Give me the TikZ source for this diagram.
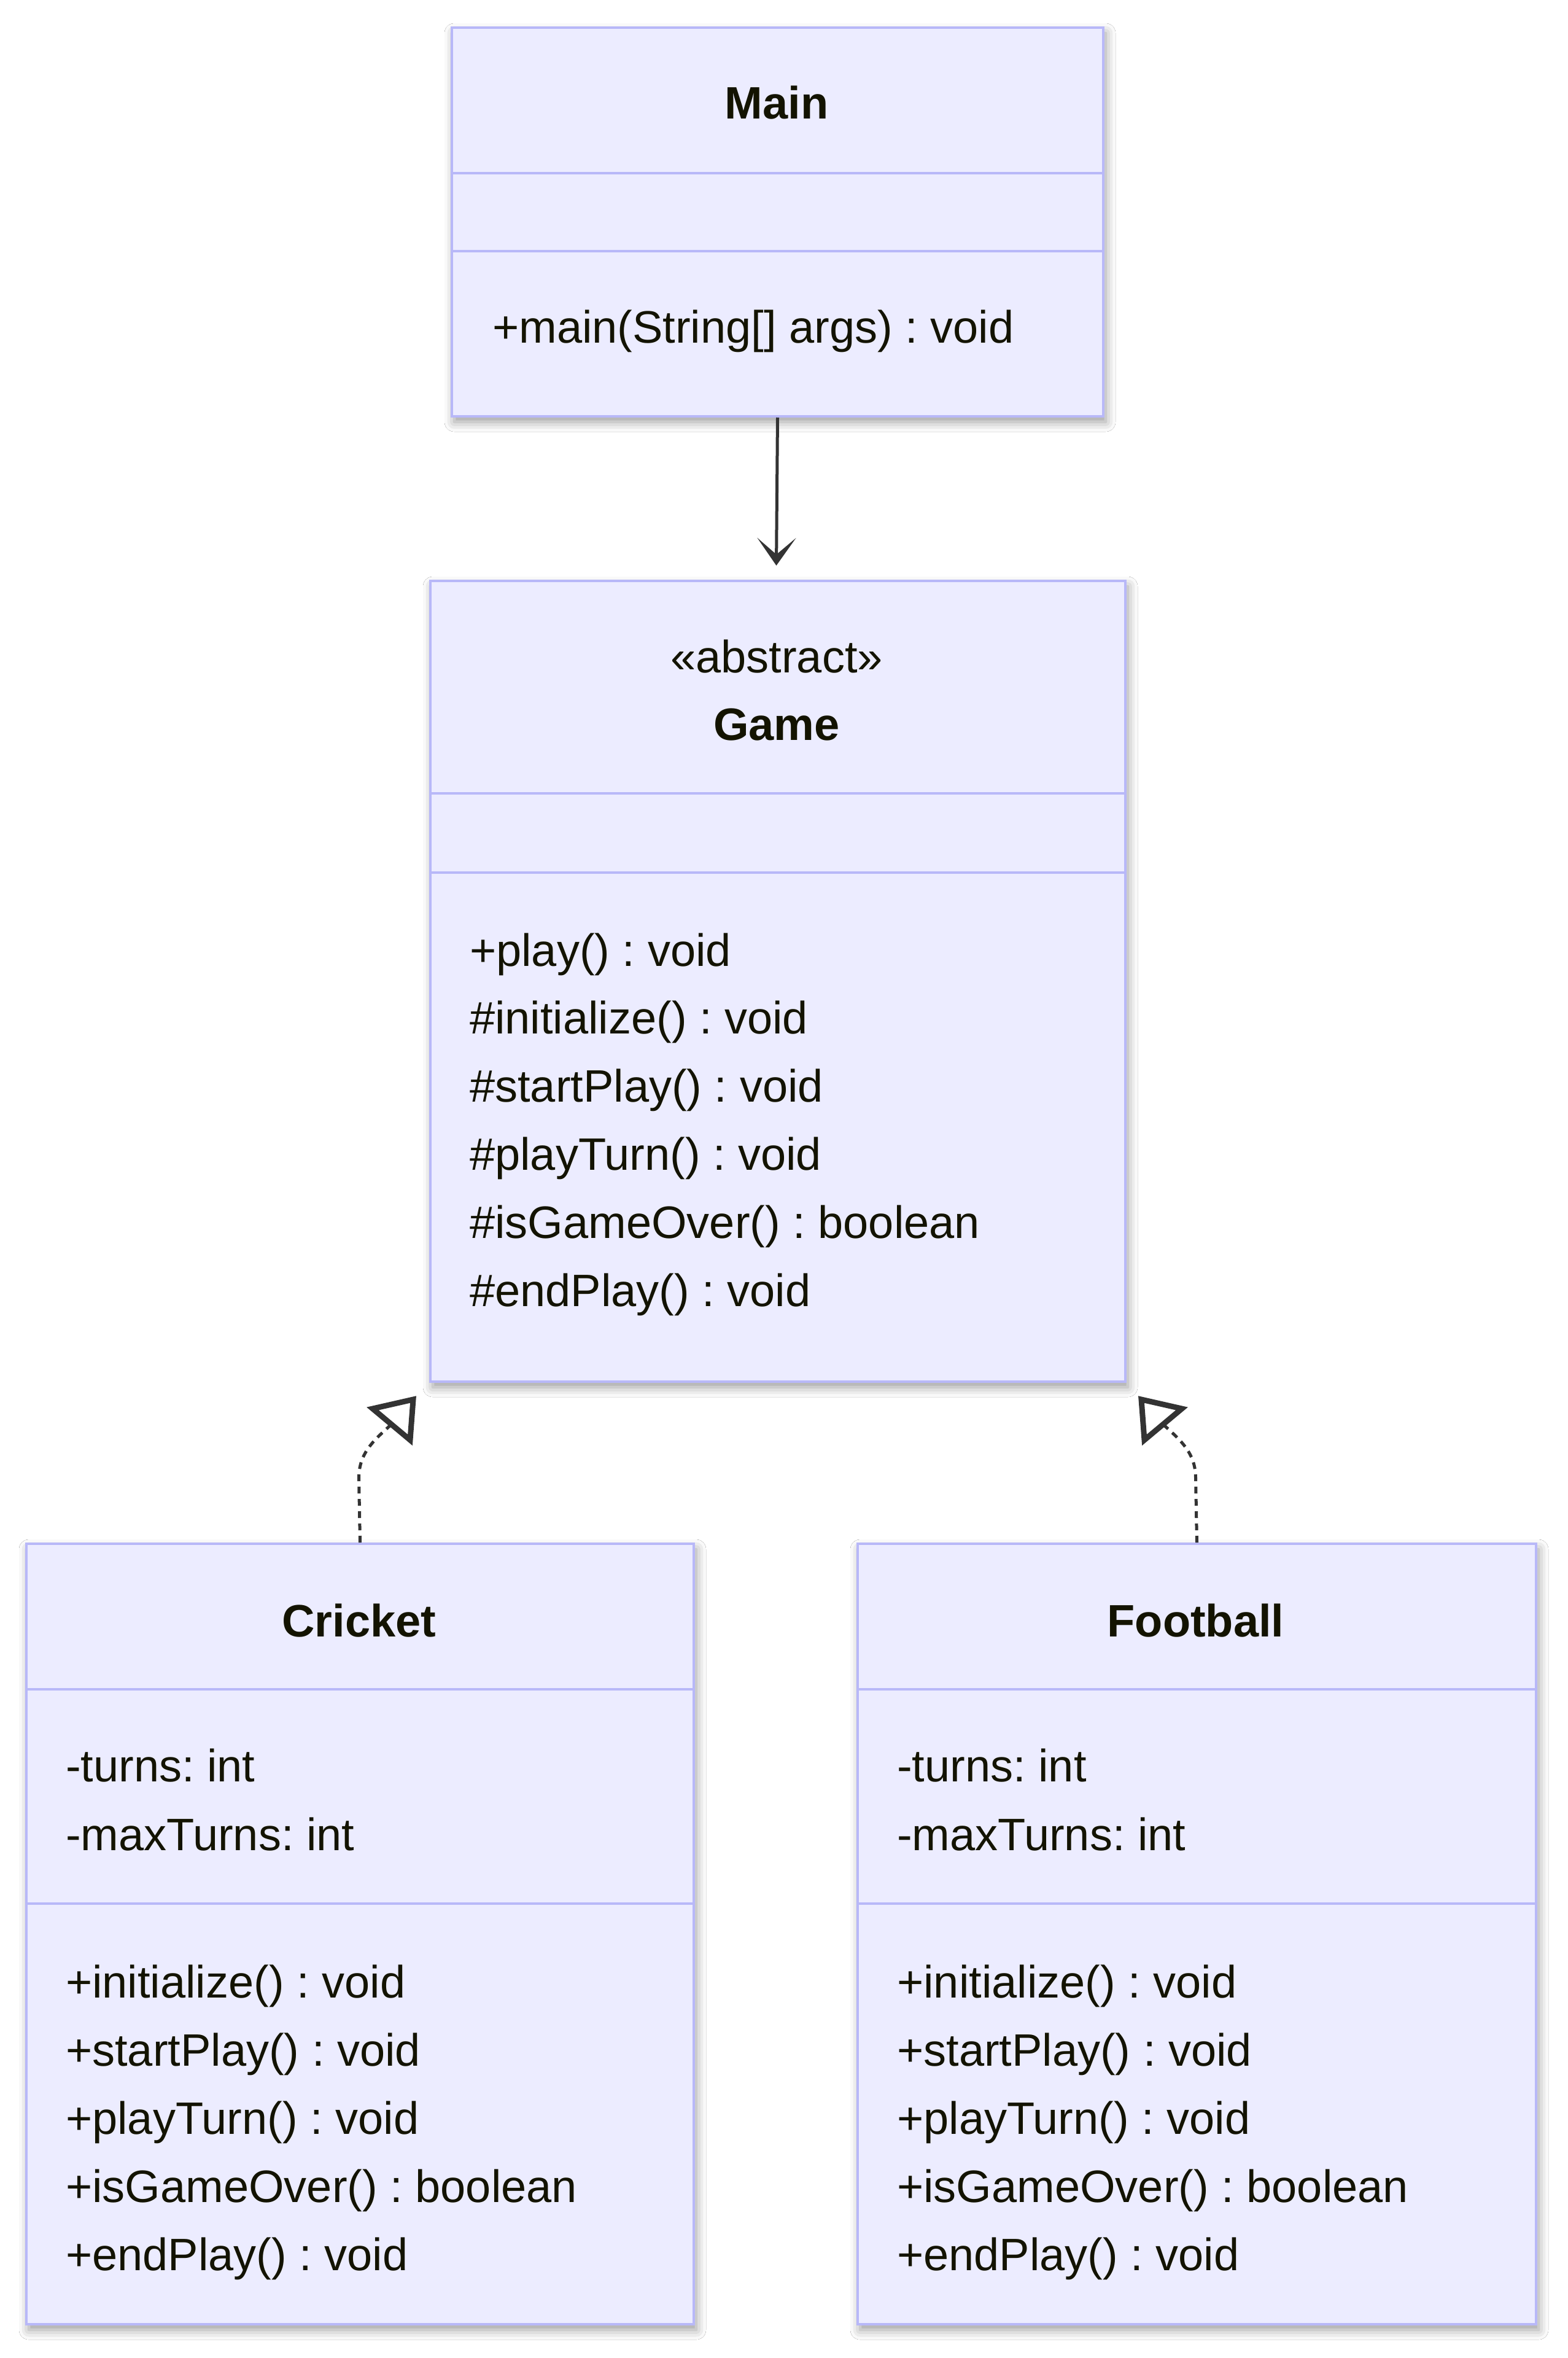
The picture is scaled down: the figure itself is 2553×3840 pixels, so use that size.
\documentclass[tikz,border=0pt]{standalone}
\usepackage{fontspec}
\setmainfont{Liberation Sans}
\usetikzlibrary{arrows.meta,shadows.blur}
\definecolor{boxfill}{HTML}{ECECFF}
\definecolor{boxline}{HTML}{B8B8F8}
\definecolor{txt}{HTML}{131300}
\definecolor{edge}{HTML}{333333}
\frenchspacing
\tikzset{
  classbox/.style={draw=boxline, fill=boxfill, line width=4pt, inner sep=0pt, anchor=north west,
    blur shadow={shadow xshift=4pt, shadow yshift=-9pt, shadow blur radius=16pt, shadow opacity=40}},
  divider/.style={draw=boxline, line width=4pt},
  member/.style={anchor=base west, inner sep=0pt, text=txt, font=\fontsize{74pt}{88pt}\selectfont},
  classtitle/.style={anchor=base, inner sep=0pt, text=txt, font=\fontsize{74pt}{88pt}\selectfont\bfseries},
  stereo/.style={anchor=base, inner sep=0pt, text=txt, font=\fontsize{74pt}{88pt}\selectfont},
  assoc/.style={draw=edge, line width=5pt, -{Stealth[length=45pt,width=63pt,inset=27pt]}},
  realize/.style={draw=edge, line width=5pt, dash pattern=on 11pt off 9pt},
  openhead/.style={draw=edge, fill=white, line width=9pt, line join=miter},
}
\begin{document}
\begin{tikzpicture}[x=1pt,y=-1pt]
\useasboundingbox (0,0) rectangle (2553,3840);
\fill[white] (0,0) rectangle (2553,3840);

% ---------- Main ----------
\node[classbox, minimum width=1061pt, minimum height=633pt] (main) at (734,43) {};
\draw[divider] (734,282) -- (1795,282);
\draw[divider] (734,409) -- (1795,409);
\node[classtitle] (mainT) at (1265,194) {Main};
\node[member] (mainM1) at (802,558) {+main(String[] args) : void};

% ---------- Game ----------
\node[classbox, minimum width=1132pt, minimum height=1304pt] (game) at (699,944) {};
\draw[divider] (699,1292) -- (1831,1292);
\draw[divider] (699,1421) -- (1831,1421);
\node[stereo] (gameS) at (1265,1095) {«abstract»};
\node[classtitle] (gameT) at (1265,1205) {Game};
\node[member] (gameM1) at (765,1573) {+play() : void};
\node[member] (gameM2) at (765,1683) {\#initialize() : void};
\node[member] (gameM3) at (765,1794) {\#startPlay() : void};
\node[member] (gameM4) at (765,1905) {\#playTurn() : void};
\node[member] (gameM5) at (765,2016) {\#isGameOver() : boolean};
\node[member] (gameM6) at (765,2127) {\#endPlay() : void};

% ---------- Cricket ----------
\node[classbox, minimum width=1087pt, minimum height=1271pt] (cricket) at (41,2512) {};
\draw[divider] (41,2751) -- (1128,2751);
\draw[divider] (41,3100) -- (1128,3100);
\node[classtitle] (cricketT) at (585,2665) {Cricket};
\node[member] (cricketA1) at (107,2901) {-turns: int};
\node[member] (cricketA2) at (107,3013) {-maxTurns: int};
\node[member] (cricketM1) at (107,3253) {+initialize() : void};
\node[member] (cricketM2) at (107,3364) {+startPlay() : void};
\node[member] (cricketM3) at (107,3475) {+playTurn() : void};
\node[member] (cricketM4) at (107,3586) {+isGameOver() : boolean};
\node[member] (cricketM5) at (107,3697) {+endPlay() : void};

% ---------- Football ----------
\node[classbox, minimum width=1105pt, minimum height=1271pt] (football) at (1395,2512) {};
\draw[divider] (1395,2751) -- (2500,2751);
\draw[divider] (1395,3100) -- (2500,3100);
\node[classtitle] (footballT) at (1947.5,2665) {Football};
\node[member] (footballA1) at (1461,2901) {-turns: int};
\node[member] (footballA2) at (1461,3013) {-maxTurns: int};
\node[member] (footballM1) at (1461,3253) {+initialize() : void};
\node[member] (footballM2) at (1461,3364) {+startPlay() : void};
\node[member] (footballM3) at (1461,3475) {+playTurn() : void};
\node[member] (footballM4) at (1461,3586) {+isGameOver() : boolean};
\node[member] (footballM5) at (1461,3697) {+endPlay() : void};

% ---------- connectors ----------
\coordinate (mainTip) at (1264.5,921);
\draw[assoc] (main.south) -- (mainTip);

\coordinate (cBend) at (584.5,2407);
\coordinate (cBase) at (637,2320);
\coordinate (cTip) at (673,2279);
\draw[realize] (cricket.north) -- (cBend) .. controls (584.5,2365) and (611,2344) .. (cBase);
\draw[openhead] (cTip) -- (607,2294) -- (668,2345) -- cycle;

\coordinate (fBend) at (1947.5,2407);
\coordinate (fBase) at (1895,2320);
\coordinate (fTip) at (1859,2279);
\draw[realize] (football.north) -- (fBend) .. controls (1947.5,2365) and (1921,2344) .. (fBase);
\draw[openhead] (fTip) -- (1925,2294) -- (1864,2345) -- cycle;
\end{tikzpicture}
\end{document}
